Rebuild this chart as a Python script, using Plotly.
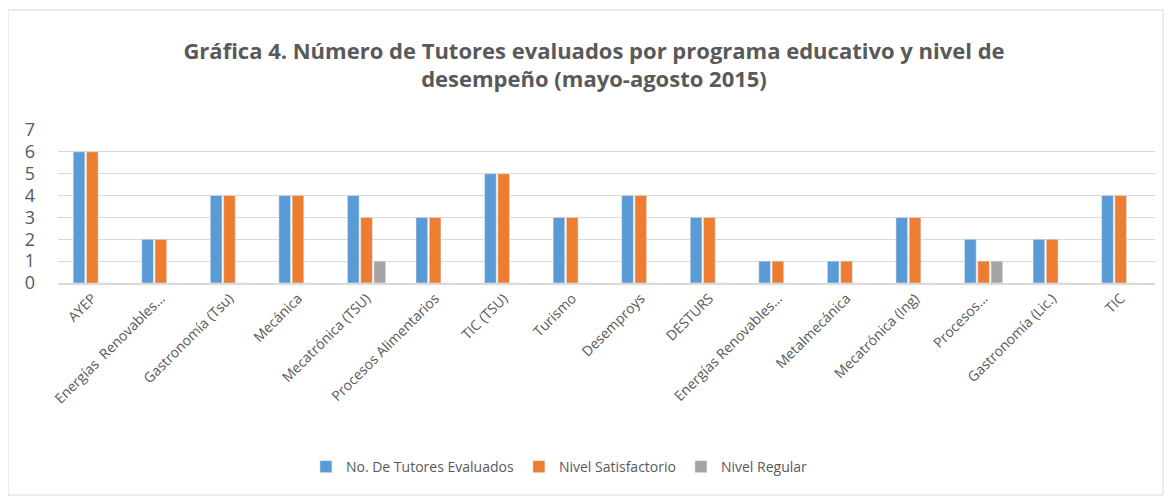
import plotly
import plotly.graph_objects as go
import pandas as pd

programas = ['AYEP', 'Energías  Renovables…', 'Gastronomía (Tsu)', 'Mecánica', 'Mecatrónica (TSU)',
             'Procesos Alimentarios', 'TIC (TSU)', 'Turismo', 'Desemproys', 'DESTURS',
             'Energías Renovables…', 'Metalmecánica', 'Mecatrónica (Ing)', 'Procesos…',
             'Gastronomía (Lic.)', 'TIC']
tutores_evaluados = [6, 2, 4, 4, 4, 3, 5, 3, 4, 3, 1, 1, 3, 2, 2, 4]
nivel_satisfactorio = [6, 2, 4, 4, 3, 3, 5, 3, 4, 3, 1, 1, 3, 1, 2, 4]
nivel_regular = [0, 0, 0, 0, 1, 0, 0, 0, 0, 0, 0, 0, 0, 1, 0, 0]
y_ticks = [0, 1, 2, 3, 4, 5, 6, 7]


class TutoresPorPrograma:
    def __init__(self, df: pd.DataFrame):
        self._name = __name__
        """
        Variavel com o nome do arquivo
        """
        self._df = df.copy(deep=True)

    def run(self) -> plotly.graph_objs.Figure:
        df = self._df
        fig = go.Figure()
        colores = {'No. De Tutores Evaluados': '#5b9bd5',
                   'Nivel Satisfactorio': '#ed7d31',
                   'Nivel Regular': '#a5a5a5'}
        for serie, color in colores.items():
            fig.add_trace(
                go.Bar(
                    x=df['programa'],
                    y=df[serie],
                    name=f'{serie}',
                    marker=dict(color=color),
                    showlegend=True,
                    hovertemplate='%{x}: %{y}',
                )
            )

        fig.update_yaxes(range=[0, 7], tickvals=y_ticks, showgrid=True, gridcolor='#d9d9d9',
                         zeroline=False, tickfont=dict(size=18, color='#595959'), ticks='',
                         showline=False, ticklabelstandoff=22)
        fig.update_xaxes(tickangle=-45, tickfont=dict(size=14, color='#595959'), showline=True,
                         linecolor='#d9d9d9', linewidth=1.5, ticks='')

        # marco exterior del gráfico
        fig.add_shape(type='rect', xref='paper', yref='paper', x0=-0.0456, x1=1.0073,
                      y0=-1.386, y1=1.784, line=dict(color='#d9d9d9', width=1))

        fig.update_layout(title=dict(text='<b>Gráfica 4. Número de Tutores evaluados por programa educativo y nivel de<br>'
                                          'desempeño (mayo-agosto 2015)</b>',
                                     x=0.5, xanchor='center', y=0.898, yanchor='top',
                                     font=dict(size=22, color='#595959')),
                          font=dict(family='Open Sans', color='#595959'),
                          barmode='group', bargap=0.42, bargroupgap=0.12,
                          legend=dict(orientation='h', x=0.226, xanchor='left', y=-1.203, yanchor='middle',
                                      font=dict(size=14, color='#595959'), traceorder='normal'),
                          plot_bgcolor='white', paper_bgcolor='white',
                          width=1172, height=498,
                          margin=dict(l=50, r=25, t=122, b=223),
                          )

        return fig


df = pd.DataFrame({'programa': programas,
                   'No. De Tutores Evaluados': tutores_evaluados,
                   'Nivel Satisfactorio': nivel_satisfactorio,
                   'Nivel Regular': nivel_regular})
fig = TutoresPorPrograma(df).run()
fig.write_html('out.html')
